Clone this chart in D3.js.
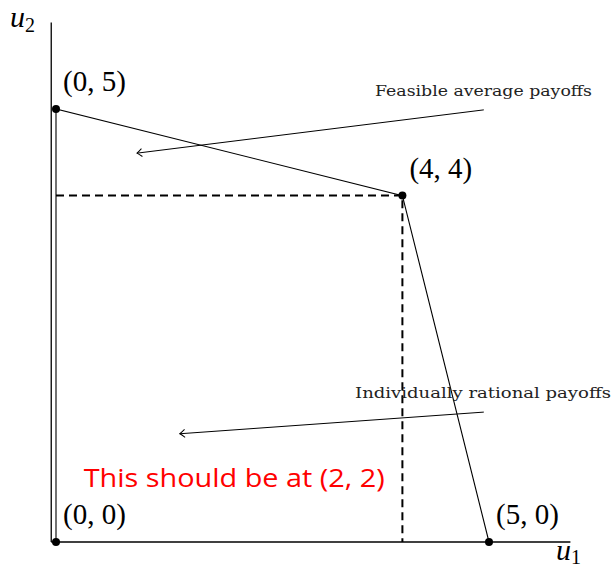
<!DOCTYPE html>
<html>
<head>
<meta charset="utf-8">
<script src="https://cdn.jsdelivr.net/npm/d3@7"></script>
<style>
  body { margin: 0; background: #fff; }
  svg { display: block; }
</style>
</head>
<body>
<div id="chart"></div>
<script>
// Payoff vertices (u1, u2)
const vertexLabels = ['(0, 0)', '(0, 5)', '(4, 4)', '(5, 0)'];
const vertexU1 = [0, 0, 4, 5];
const vertexU2 = [0, 5, 4, 0];

// Feasible region boundary order
const hullOrder = [0, 1, 2, 3];

// Individually rational corner (dashed guides)
const guideCorner = [4, 4];

// Annotations: text, arrow start/end in payoff units
const noteTexts = ['Feasible average payoffs', 'Individually rational payoffs'];
const noteFrom = [[4.94, 4.99], [4.94, 1.50]];
const noteTo = [[0.935, 4.49], [1.43, 1.25]];

const width = 612, height = 569;

const x = d3.scaleLinear().domain([0, 5]).range([56, 489]);
const y = d3.scaleLinear().domain([0, 5]).range([542, 109]);

const svg = d3.select('#chart').append('svg')
    .attr('width', width)
    .attr('height', height);

svg.append('defs').append('marker')
    .attr('id', 'arrow')
    .attr('viewBox', '-6 -5 8 10')
    .attr('refX', 0)
    .attr('refY', 0)
    .attr('markerWidth', 8)
    .attr('markerHeight', 10)
    .attr('markerUnits', 'userSpaceOnUse')
    .attr('orient', 'auto')
    .append('path')
    .attr('d', 'M-5,-4 Q-1.5,-1 0,0 Q-1.5,1 -5,4')
    .style('fill', 'none')
    .style('stroke', '#000')
    .style('stroke-width', 1);

// axes
svg.append('line')
    .attr('x1', x(-0.055)).attr('x2', x(-0.055))
    .attr('y1', y(0)).attr('y2', y(6.0))
    .style('stroke', '#000').style('stroke-width', 1.3);

svg.append('line')
    .attr('x1', x(-0.055)).attr('x2', x(5.94))
    .attr('y1', y(0)).attr('y2', y(0))
    .style('stroke', '#000').style('stroke-width', 1.5);

// dashed guides
svg.append('path')
    .attr('d', 'M' + x(0) + ',' + y(guideCorner[1]) + 'H' + x(guideCorner[0]) + 'V' + y(0))
    .style('fill', 'none')
    .style('stroke', '#000')
    .style('stroke-width', 2)
    .style('stroke-dasharray', '8,5');

// feasible boundary
const line = d3.line()
    .x(function(i) { return x(vertexU1[i]); })
    .y(function(i) { return y(vertexU2[i]); });

svg.append('path')
    .attr('d', line(hullOrder))
    .style('fill', 'none')
    .style('stroke', '#000')
    .style('stroke-width', 1.1);

// vertices
svg.selectAll('.vertex')
    .data(vertexLabels)
    .enter()
    .append('circle')
    .attr('class', 'vertex')
    .attr('cx', function(d, i) { return x(vertexU1[i]); })
    .attr('cy', function(d, i) { return y(vertexU2[i]); })
    .attr('r', 4)
    .style('fill', '#000');

svg.selectAll('.vlabel')
    .data(vertexLabels)
    .enter()
    .append('text')
    .attr('class', 'vlabel')
    .attr('x', function(d, i) { return x(vertexU1[i]) + 7; })
    .attr('y', function(d, i) { return y(vertexU2[i]) - 18; })
    .style('font-family', '"Liberation Serif", serif')
    .style('font-size', '29px')
    .style('fill', '#000')
    .text(function(d) { return d; });

// axis labels
const u2 = svg.append('text')
    .attr('x', 10).attr('y', 27)
    .style('font-family', '"Liberation Serif", serif')
    .style('font-size', '30px');
u2.append('tspan').style('font-style', 'italic').text('u');
u2.append('tspan').attr('dy', 5).style('font-size', '20px').text('2');

const u1 = svg.append('text')
    .attr('x', 556).attr('y', 560)
    .style('font-family', '"Liberation Serif", serif')
    .style('font-size', '30px');
u1.append('tspan').style('font-style', 'italic').text('u');
u1.append('tspan').attr('dy', 4).style('font-size', '20px').text('1');

// annotations
svg.selectAll('.note-arrow')
    .data(noteTexts)
    .enter()
    .append('line')
    .attr('class', 'note-arrow')
    .attr('x1', function(d, i) { return x(noteFrom[i][0]); })
    .attr('y1', function(d, i) { return y(noteFrom[i][1]); })
    .attr('x2', function(d, i) { return x(noteTo[i][0]); })
    .attr('y2', function(d, i) { return y(noteTo[i][1]); })
    .style('stroke', '#000')
    .style('stroke-width', 1)
    .attr('marker-end', 'url(#arrow)');

const noteX = [375, 355];
const noteW = [217, 256];
svg.selectAll('.note-text')
    .data(noteTexts)
    .enter()
    .append('text')
    .attr('class', 'note-text')
    .attr('x', function(d, i) { return noteX[i]; })
    .attr('y', function(d, i) { return y(noteFrom[i][1]) - 14; })
    .attr('textLength', function(d, i) { return noteW[i]; })
    .attr('lengthAdjust', 'spacingAndGlyphs')
    .style('font-family', '"DejaVu Serif", serif')
    .style('font-size', '14.5px')
    .style('fill', '#222')
    .text(function(d) { return d; });

// red remark
svg.append('text')
    .attr('x', x(0.32))
    .attr('y', y(0.64))
    .attr('textLength', 301)
    .attr('lengthAdjust', 'spacingAndGlyphs')
    .style('font-family', '"Open Sans", sans-serif')
    .style('font-size', '26px')
    .style('fill', '#ff0000')
    .text('This should be at (2, 2)');
</script>
</body>
</html>
